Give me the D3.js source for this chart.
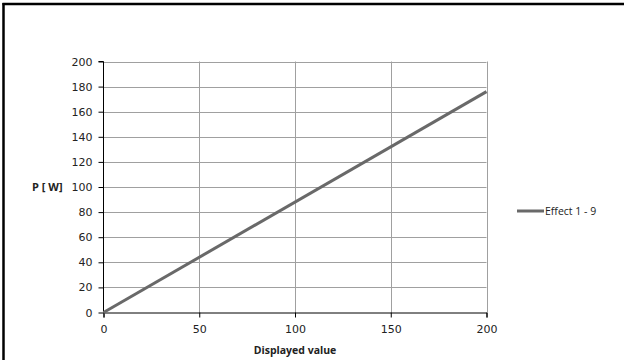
<!DOCTYPE html>
<html><head><meta charset="utf-8">
<script src="https://cdn.jsdelivr.net/npm/d3@7"></script>
<style>body{margin:0;background:#fff;}svg{display:block;}</style>
</head><body>
<script>
const xValues = [0, 200];
const yValues = [0, 176];
const xTicks = [0, 50, 100, 150, 200];
const yTicks = [0, 20, 40, 60, 80, 100, 120, 140, 160, 180, 200];
const seriesName = "Effect 1 - 9";
const xTitle = "Displayed value";
const yTitle = "P [ W]";

const W = 624, H = 360;
const svg = d3.select("body").append("svg").attr("width", W).attr("height", H);
svg.append("rect").attr("width", W).attr("height", H).attr("fill", "#fff");
// frame (top and left edges)
svg.append("line").attr("x1", 2.5).attr("x2", W).attr("y1", 4).attr("y2", 4).attr("stroke", "#000").attr("stroke-width", 2.5);
svg.append("line").attr("x1", 3.5).attr("x2", 3.5).attr("y1", 3).attr("y2", H).attr("stroke", "#000").attr("stroke-width", 2.5);

const x = d3.scaleLinear().domain([0, 200]).range([103.5, 486.5]);
const y = d3.scaleLinear().domain([0, 200]).range([312.5, 61.5]);

// gridlines
const g = svg.append("g");
g.selectAll(".hg").data(yTicks.filter(d => d > 0)).enter().append("line")
  .attr("x1", x(0)).attr("x2", x(200)).attr("y1", d => Math.round(y(d)) + 0.5).attr("y2", d => Math.round(y(d)) + 0.5)
  .attr("stroke", "#a0a0a0").attr("stroke-width", 1);
g.selectAll(".vg").data(xTicks.filter(d => d > 0)).enter().append("line")
  .attr("x1", d => Math.round(x(d)) + 0.5).attr("x2", d => Math.round(x(d)) + 0.5).attr("y1", y(200)).attr("y2", y(0))
  .attr("stroke", "#a0a0a0").attr("stroke-width", 1);

// axes
const yAxis = d3.axisLeft(y).tickValues(yTicks).tickSize(5).tickPadding(6);
const xAxis = d3.axisBottom(x).tickValues(xTicks).tickSize(5).tickPadding(8);
const ya = svg.append("g").attr("transform", `translate(${x(0)},0)`).call(yAxis);
const xa = svg.append("g").attr("transform", `translate(0,${y(0)})`).call(xAxis);
[ya, xa].forEach(a => {
  a.select(".domain").attr("stroke", "#000");
  a.selectAll(".tick line").attr("stroke", "#000");
  a.selectAll("text").attr("font-family", "DejaVu Sans, sans-serif").attr("font-size", "11px").attr("fill", "#222");
});
ya.select(".domain").attr("d", `M-5,${y(200)}H0V${y(0)}`);

// series line
const line = d3.line().x((d, i) => x(xValues[i])).y((d, i) => y(yValues[i]));
svg.append("path").datum(yValues).attr("d", line).attr("fill", "none")
  .attr("stroke", "#696969").attr("stroke-width", 3).attr("stroke-linecap", "butt");

// titles
svg.append("text").attr("x", x(100)).attr("y", 354).attr("text-anchor", "middle")
  .attr("font-family", "Open Sans, sans-serif").attr("font-weight", "bold").attr("font-size", "10.5px").attr("fill", "#222").text(xTitle);
svg.append("text").attr("x", 32).attr("y", y(100) + 4).attr("text-anchor", "start")
  .attr("font-family", "Open Sans, sans-serif").attr("font-weight", "bold").attr("font-size", "11px").attr("fill", "#222").text(yTitle);

// legend
svg.append("line").attr("x1", 517).attr("x2", 544).attr("y1", 211).attr("y2", 211).attr("stroke", "#696969").attr("stroke-width", 3);
svg.append("text").attr("x", 545).attr("y", 215).attr("font-family", "Open Sans, sans-serif").attr("font-size", "10.5px").attr("fill", "#222").text(seriesName);
</script>
</body></html>
